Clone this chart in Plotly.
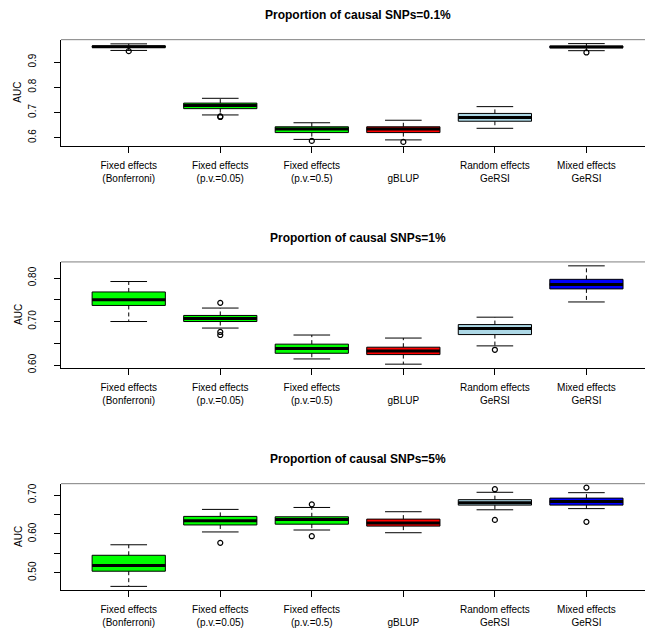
import plotly.graph_objects as go

# ---------------- data ----------------
methods = ["Fixed effects<br>(Bonferroni)", "Fixed effects<br>(p.v.=0.05)", "Fixed effects<br>(p.v.=0.5)",
           " <br>gBLUP", "Random effects<br>GeRSI", "Mixed effects<br>GeRSI"]
box_colors = ["#00FF00", "#00FF00", "#00FF00", "#FF0000", "#ADD8E6", "#0000FF"]
panel_titles = ["Proportion of causal SNPs=0.1%", "Proportion of causal SNPs=1%", "Proportion of causal SNPs=5%"]

# columns: lower whisker, q1, median, q3, upper whisker
p01_stats = [
    [0.946, 0.958, 0.961, 0.964, 0.972],
    [0.690, 0.715, 0.727, 0.737, 0.756],
    [0.593, 0.620, 0.634, 0.643, 0.659],
    [0.591, 0.620, 0.634, 0.643, 0.669],
    [0.637, 0.665, 0.680, 0.696, 0.723],
    [0.945, 0.957, 0.960, 0.963, 0.973],
]
p01_outliers = [[0.943], [0.682, 0.684], [0.587], [0.583], [], [0.938]]

p1_stats = [
    [0.700, 0.737, 0.750, 0.768, 0.792],
    [0.685, 0.700, 0.707, 0.714, 0.731],
    [0.614, 0.627, 0.638, 0.648, 0.669],
    [0.602, 0.624, 0.632, 0.641, 0.662],
    [0.644, 0.670, 0.684, 0.693, 0.710],
    [0.745, 0.775, 0.785, 0.797, 0.828],
]
p1_outliers = [[], [0.743, 0.676, 0.669], [], [], [0.635], []]

p5_stats = [
    [0.465, 0.504, 0.519, 0.545, 0.572],
    [0.605, 0.623, 0.634, 0.645, 0.663],
    [0.610, 0.625, 0.637, 0.644, 0.668],
    [0.603, 0.620, 0.628, 0.638, 0.657],
    [0.662, 0.674, 0.680, 0.688, 0.707],
    [0.665, 0.674, 0.683, 0.692, 0.706],
]
p5_outliers = [[], [0.577], [0.676, 0.594], [], [0.715, 0.636], [0.719, 0.631]]

ytick_vals = [[0.6, 0.7, 0.8, 0.9], [0.60, 0.65, 0.70, 0.75, 0.80], [0.50, 0.55, 0.60, 0.65, 0.70]]
ytick_text = [["0.6", "0.7", "0.8", "0.9"], ["0.60", "", "0.70", "", "0.80"], ["0.50", "", "0.60", "", "0.70"]]

panels = [(p01_stats, p01_outliers), (p1_stats, p1_outliers), (p5_stats, p5_outliers)]

# ---------------- layout geometry ----------------
W, H = 645, 637
ML = 61
PW = W - ML
panel_px = [(40, 147), (264, 371), (487.5, 595)]  # top, bottom of plot area in px
title_px = [15, 239.5, 463]
FONT = "Liberation Sans, Arial, sans-serif"
BOXW = 0.8


def px_x(px):
    return (px - ML) / PW


fig = go.Figure()
layout = dict(
    width=W, height=H, margin=dict(l=ML, r=0, t=0, b=0),
    paper_bgcolor="white", plot_bgcolor="white", showlegend=False,
    font=dict(family=FONT, size=10, color="black"),
    annotations=[], shapes=[],
)

for p, (stats, outs) in enumerate(panels):
    xa = "x" if p == 0 else f"x{p+1}"
    ya = "y" if p == 0 else f"y{p+1}"
    for i, (s, o) in enumerate(zip(stats, outs)):
        pos = i + 1
        lo, q1, med, q3, hi = s
        fig.add_trace(go.Box(
            x=[pos], q1=[q1], median=[med], q3=[q3], lowerfence=[q1], upperfence=[q3],
            width=BOXW, fillcolor=box_colors[i], line=dict(color="black", width=1),
            boxpoints=False, whiskerwidth=0, hoverinfo="skip", xaxis=xa, yaxis=ya))
        # dashed whiskers
        fig.add_trace(go.Scatter(x=[pos, pos, None, pos, pos], y=[q3, hi, None, q1, lo], mode="lines",
                                 line=dict(color="black", width=1, dash="4px,3px"),
                                 hoverinfo="skip", xaxis=xa, yaxis=ya))
        # whisker caps
        hw = BOXW / 4
        fig.add_trace(go.Scatter(x=[pos - hw, pos + hw, None, pos - hw, pos + hw], y=[hi, hi, None, lo, lo],
                                 mode="lines", line=dict(color="black", width=1),
                                 hoverinfo="skip", xaxis=xa, yaxis=ya))
        # thick median
        fig.add_trace(go.Scatter(x=[pos - BOXW / 2, pos + BOXW / 2], y=[med, med], mode="lines",
                                 line=dict(color="black", width=3), hoverinfo="skip", xaxis=xa, yaxis=ya))
        if o:
            fig.add_trace(go.Scatter(x=[pos] * len(o), y=o, mode="markers",
                                     marker=dict(symbol="circle-open", size=5, color="black",
                                                 line=dict(width=1.2, color="black")),
                                     hoverinfo="skip", xaxis=xa, yaxis=ya))

    allv = [v for s in stats for v in (s[0], s[4])] + [v for o in outs for v in o]
    lo_all, hi_all = min(allv), max(allv)
    pad = 0.04 * (hi_all - lo_all)
    top, bot = panel_px[p]
    dom = [1 - bot / H, 1 - top / H]
    key = "" if p == 0 else str(p + 1)
    layout["xaxis" + key] = dict(
        domain=[0, 1], range=[0.26, 6.64], anchor=ya, showgrid=False, zeroline=False,
        showline=True, linecolor="black", linewidth=1,
        tickmode="array", tickvals=list(range(1, 7)), ticktext=methods,
        ticks="outside", ticklen=6, tickcolor="black", tickfont=dict(size=10, family=FONT, color="black"),
        ticklabelstandoff=4)
    layout["yaxis" + key] = dict(
        domain=dom, range=[lo_all - pad, hi_all + pad], anchor=xa, showgrid=False, zeroline=False,
        showline=True, linecolor="black", linewidth=1,
        tickmode="array", tickvals=ytick_vals[p], ticktext=ytick_text[p],
        ticks="outside", ticklen=6, tickcolor="black", tickangle=-90,
        tickfont=dict(size=10, family=FONT, color="black"), ticklabelstandoff=14)
    # top frame line (gray, as in the reference)
    layout["shapes"].append(dict(type="line", xref=xa + " domain", yref=ya + " domain",
                                 x0=0, x1=1, y0=1, y1=1, line=dict(color="#7f7f7f", width=1)))
    layout["annotations"].append(dict(text="<b>" + panel_titles[p] + "</b>", xref="paper", yref="paper",
                                      x=px_x(357.5), y=1 - title_px[p] / H, xanchor="center", yanchor="middle",
                                      showarrow=False, font=dict(size=12, family=FONT, color="black")))
    layout["annotations"].append(dict(text="AUC", xref="paper", yref="paper", textangle=-90,
                                      x=px_x(18), y=1 - (top + bot) / 2 / H, xanchor="center", yanchor="middle",
                                      showarrow=False, font=dict(size=10, family=FONT, color="black")))

fig.update_layout(**layout)
fig.write_html("out.html")
